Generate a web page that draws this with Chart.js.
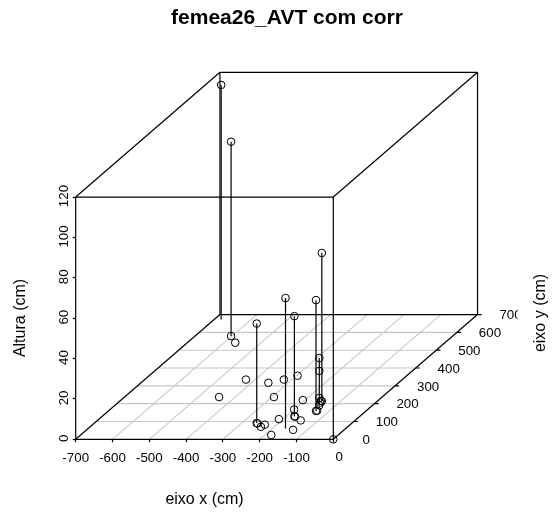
<!DOCTYPE html>
<html><head><meta charset="utf-8">
<style>html,body{margin:0;padding:0;background:#fff}canvas{display:block}</style>
<script src="https://cdn.jsdelivr.net/npm/chart.js@4"></script>
</head><body><canvas id="c" width="552" height="515"></canvas>
<script>
// Values (cm)
const xValues = [-681,-602,-259,-164,-178,-136,-151,-145,-145,
  -602,-570,-259,-256,-236,-232,-182,-425,-443,-354,-322,-297,-294,-206,-211,-148,-139,-200,-178,-175,-136,-134,-168,-151,-155,-145,-151,0];
const yValues = [672,579,91,61,129,159,214,191,191,
  579,542,91,89,70,82,24,335,237,317,335,357,237,220,113,106,53,167,129,127,159,161,232,214,216,191,206,0];
const zValues = [116.2,96.3,49.3,64.6,49.6,54.9,73.4,23.4,17,
  0,0,0,0,0,0,0,0,0,0,0,0,0,0,0,0,0,0,0,0,0,0,0,0,0,0,0,0];
const xTicks = [-700,-600,-500,-400,-300,-200,-100,0];
const zTicks = [0,20,40,60,80,100,120];
const depthTicks = [0,100,200,300,400,500,600,700];
const titleText = 'femea26_AVT com corr';
const xTitle = 'eixo x (cm)', yTitle = 'eixo y (cm)', zTitle = 'Altura (cm)';

// oblique projection: how far the full depth axis shifts in x and z units
const depthMax = 700, xShift = 392, zShift = 61.8;
const xMin = -700, xMax = 0, zMin = 0, zMax = 120;
const xScaleMax = 594.3;
const pr = (x, y, z) => ({x: x + y / depthMax * xShift, y: z + y / depthMax * zShift});
const GAP = {x: NaN, y: NaN};

const points = xValues.map((x, i) => pr(x, yValues[i], zValues[i]));
const stems = [];
xValues.forEach((x, i) => { if (zValues[i] > 0) stems.push(pr(x, yValues[i], 0), pr(x, yValues[i], zValues[i]), GAP); });

const seg = (a, b) => [pr(...a), pr(...b), GAP];
const box = [
  ...seg([xMin,0,zMin],[xMax,0,zMin]), ...seg([xMax,0,zMin],[xMax,0,zMax]), ...seg([xMax,0,zMax],[xMin,0,zMax]), ...seg([xMin,0,zMax],[xMin,0,zMin]),
  ...seg([xMin,depthMax,zMin],[xMax,depthMax,zMin]), ...seg([xMax,depthMax,zMin],[xMax,depthMax,zMax]), ...seg([xMax,depthMax,zMax],[xMin,depthMax,zMax]), ...seg([xMin,depthMax,zMax],[xMin,depthMax,zMin]),
  ...seg([xMin,0,zMin],[xMin,depthMax,zMin]), ...seg([xMax,0,zMin],[xMax,depthMax,zMin]), ...seg([xMin,0,zMax],[xMin,depthMax,zMax]), ...seg([xMax,0,zMax],[xMax,depthMax,zMax])
];
const grid = [];
xTicks.slice(1,-1).forEach(x => grid.push(...seg([x,0,zMin],[x,depthMax,zMin])));
depthTicks.slice(1,-1).forEach(y => grid.push(...seg([xMin,y,zMin],[xMax,y,zMin])));
const depthTickMarks = [];
depthTicks.slice(1).forEach(y => depthTickMarks.push(...seg([xMax,y,zMin],[xMax+11,y,zMin])));

const FONT = '"Liberation Sans", Arial, sans-serif';
const textPlugin = {
  id: 'axisText',
  afterDraw(chart) {
    const {ctx, scales: {x: sx, y: sy}} = chart;
    ctx.save();
    ctx.fillStyle = '#000';
    ctx.textAlign = 'center';
    ctx.textBaseline = 'middle';
    ctx.font = '13.33px ' + FONT;
    ctx.fillText('0', sx.getPixelForValue(0) + 6, 457);
    ctx.save();
    ctx.beginPath(); ctx.rect(0, 0, 517.7, 515); ctx.clip();
    depthTicks.forEach(t => {
      const p = pr(xMax, t, zMin);
      ctx.fillText(String(t), sx.getPixelForValue(p.x) + 33, sy.getPixelForValue(p.y) + 1);
    });
    ctx.restore();
    ctx.font = '16px ' + FONT;
    ctx.fillText(xTitle, 204.5, 500);
    ctx.translate(20.5, 318); ctx.rotate(-Math.PI / 2); ctx.fillText(zTitle, 0, 0);
    ctx.rotate(Math.PI / 2); ctx.translate(-20.5, -318);
    ctx.translate(541, 313); ctx.rotate(-Math.PI / 2); ctx.fillText(yTitle, 0, 0);
    ctx.restore();
  }
};

const lineDs = (data, color, width) => ({type: 'scatter', data, showLine: true, spanGaps: false, borderColor: color, borderWidth: width, pointRadius: 0, clip: false, tension: 0});

new Chart(document.getElementById('c'), {
  type: 'scatter',
  data: {datasets: [
    {data: points, showLine: false, pointRadius: 3.8, pointBorderWidth: 1, pointBorderColor: '#000', pointBackgroundColor: 'rgba(0,0,0,0)', clip: false},
    lineDs(stems, '#000', 1.2),
    lineDs(depthTickMarks, '#000', 1.2),
    lineDs(box, '#000', 1.2),
    lineDs(grid, '#c8c8c8', 1.1)
  ]},
  plugins: [textPlugin],
  options: {
    responsive: false, animation: false,
    layout: {autoPadding: false, padding: {left: 22, right: 0, top: 0, bottom: 0}},
    plugins: {
      legend: {display: false}, tooltip: {enabled: false},
      title: {display: true, text: titleText, color: '#000', font: {family: FONT, size: 21, weight: 'bold', lineHeight: 1.2}, padding: {top: 5.2, bottom: 41.9}}
    },
    scales: {
      x: {
        type: 'linear', min: xMin, max: xScaleMax,
        afterBuildTicks: s => { s.ticks = xTicks.map(v => ({value: v})); },
        afterFit: s => { s.height = 75.7; },
        border: {display: false},
        grid: {drawOnChartArea: false, drawTicks: true, tickLength: 3, tickColor: '#000', tickWidth: 1.2},
        ticks: {color: '#000', font: {family: FONT, size: 13.33}, padding: 8, maxRotation: 0, minRotation: 0, autoSkip: false, callback: v => v === 0 ? '' : String(v)}
      },
      y: {
        type: 'linear', min: zMin, max: zMax + zShift,
        afterBuildTicks: s => { s.ticks = zTicks.map(v => ({value: v})); },
        afterFit: s => { s.width = 53.7; },
        border: {display: false},
        grid: {drawOnChartArea: false, drawTicks: true, tickLength: 3, tickColor: '#000', tickWidth: 1.2},
        ticks: {color: '#000', font: {family: FONT, size: 13.33}, padding: -3, labelOffset: -1, minRotation: 90, maxRotation: 90, autoSkip: false, crossAlign: 'center', callback: v => String(v)}
      }
    }
  }
});
</script></body></html>
